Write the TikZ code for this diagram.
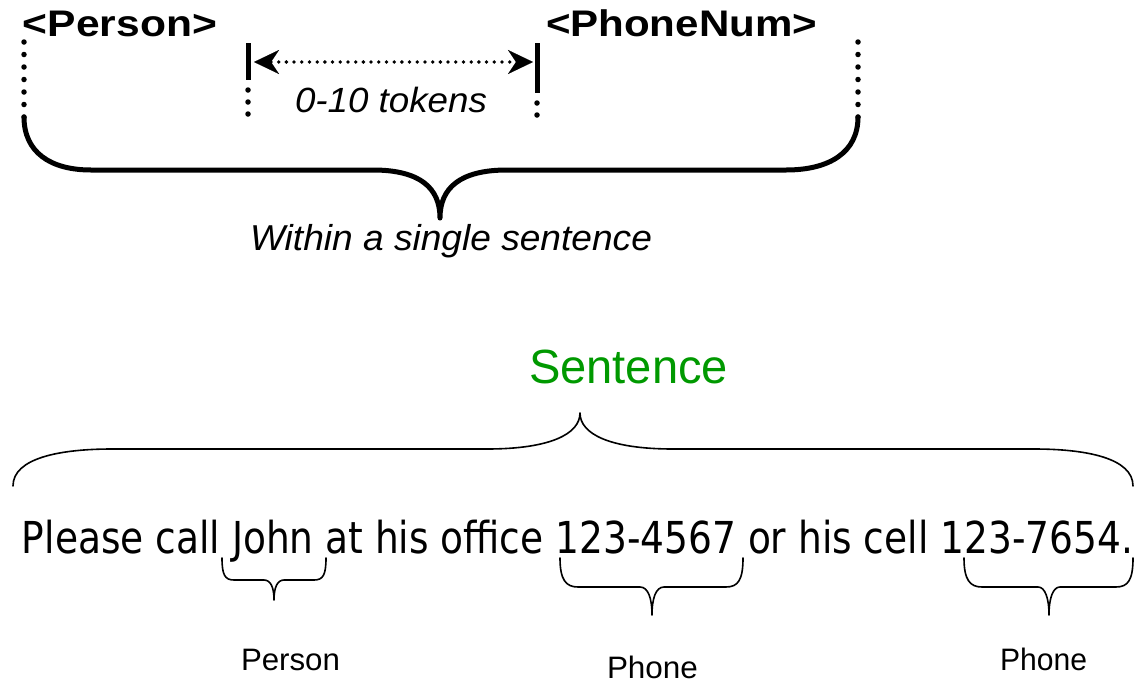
\documentclass[tikz,border=0pt]{standalone}
\usepackage{graphicx}
\usepackage{fontspec}
\setmainfont{Liberation Sans}
\newfontfamily\narrowsans{DejaVu Sans Condensed}
\usetikzlibrary{arrows.meta}
\definecolor{sentgreen}{RGB}{0,153,0}
% stretch a text horizontally to a given width, keeping its height
\newcommand\fitw[2]{\resizebox{#1}{\height}{#2}}

\begin{document}
\begin{tikzpicture}[x=1pt,y=-1pt,
  lbl/.style={inner sep=0pt, outer sep=0pt, anchor=base west},
  thickbrace/.style={line width=5pt, line cap=round, line join=round},
  thinbrace/.style={line width=1.6pt, line cap=round, line join=round},
  dotcol/.style={line width=5.5pt, line cap=round, dash pattern=on 0pt off 12.5pt},
  bar/.style={line width=5pt},
  span/.style={line width=3.8pt, line cap=round, dash pattern=on 0pt off 7.7pt,
    {Stealth[length=25pt,width=24pt,inset=8pt,line width=0.1pt]}-{Stealth[length=25pt,width=24pt,inset=8pt,line width=0.1pt]}}]
\useasboundingbox (0,0) rectangle (1136,683);

% ---- pattern: <Person> ... <PhoneNum> ----
\node[lbl] (person) at (23,36)
  {\fontsize{37}{42}\selectfont\bfseries\fitw{194pt}{<Person>}};
\node[lbl] (phonenum) at (546,36)
  {\fontsize{37}{42}\selectfont\bfseries\fitw{271pt}{<PhoneNum>}};

% outer extent markers (dotted)
\coordinate (lt) at (24,42);  \coordinate (lb) at (24,117);
\coordinate (rt) at (858,42); \coordinate (rb) at (858,117);
\draw[dotcol] (lt) -- (lb);
\draw[dotcol] (rt) -- (rb);

% gap markers
\coordinate (gl1) at (248,43); \coordinate (gl2) at (248,80);
\coordinate (gl3) at (248,90); \coordinate (gl4) at (248,115);
\coordinate (gr1) at (537,43); \coordinate (gr2) at (537,93);
\coordinate (gr3) at (537,103); \coordinate (gr4) at (537,116);
\draw[bar] (gl1) -- (gl2);
\draw[bar] (gr1) -- (gr2);
\draw[dotcol, dash pattern=on 0pt off 12pt] (gl3) -- (gl4);
\draw[dotcol, dash pattern=on 0pt off 12pt] (gr3) -- (gr4);

% gap arrow
\coordinate (al) at (254,62);
\coordinate (ar) at (533,62);
\draw[span] (al) -- (ar);
\node[lbl] (tokens) at (295,112)
  {\fontsize{35}{40}\selectfont\itshape\fitw{192pt}{0-10 tokens}};

% big brace
\draw[thickbrace] (lb) .. controls (24,152) and (50,170) .. (91,170)
  -- (373,170) .. controls (420,170) and (440,188) .. (440,218)
  .. controls (440,188) and (460,170) .. (507,170)
  -- (786,170) .. controls (830,170) and (858,152) .. (rb);
\node[lbl] (within) at (250,250)
  {\fontsize{36}{40}\selectfont\itshape\fitw{402pt}{Within a single sentence}};

% ---- example sentence ----
\node[lbl] (sentlabel) at (529,383)
  {\fontsize{48}{54}\selectfont\color{sentgreen}\fitw{199pt}{Sentence}};

\draw[thinbrace] (13,486) .. controls (13,458) and (60,449) .. (112,449)
  -- (487,449) .. controls (550,449) and (580,434) .. (580,413)
  .. controls (580,434) and (610,449) .. (673,449)
  -- (1034,449) .. controls (1086,449) and (1133,458) .. (1133,486);

\node[lbl] (sentence) at (22,553)
  {\fontsize{44}{50}\selectfont\narrowsans\fitw{1111pt}{Please call John at his office 123-4567 or his cell 123-7654.}};

% word braces
\draw[thinbrace] (222,558) .. controls (222,575) and (225,580) .. (234,580)
  -- (264,580) .. controls (271,580) and (274,588) .. (274,600)
  .. controls (274,588) and (277,580) .. (284,580)
  -- (314,580) .. controls (323,580) and (326,575) .. (326,558);
\draw[thinbrace] (560,558) .. controls (560,580) and (566,587) .. (578,587)
  -- (640,587) .. controls (648,587) and (652,598) .. (652,615)
  .. controls (652,598) and (656,587) .. (664,587)
  -- (726,587) .. controls (738,587) and (743,580) .. (743,558);
\draw[thinbrace] (964,558) .. controls (964,580) and (970,587) .. (982,587)
  -- (1038,587) .. controls (1045,587) and (1049,598) .. (1049,615)
  .. controls (1049,598) and (1053,587) .. (1060,587)
  -- (1116,587) .. controls (1128,587) and (1133,580) .. (1133,558);

\node[lbl] (lperson) at (241,670)
  {\fontsize{31}{36}\selectfont\fitw{99pt}{Person}};
\node[lbl] (lphone1) at (607,678)
  {\fontsize{31}{36}\selectfont\fitw{91pt}{Phone}};
\node[lbl] (lphone2) at (1000,670)
  {\fontsize{31}{36}\selectfont\fitw{87pt}{Phone}};
\end{tikzpicture}
\end{document}
